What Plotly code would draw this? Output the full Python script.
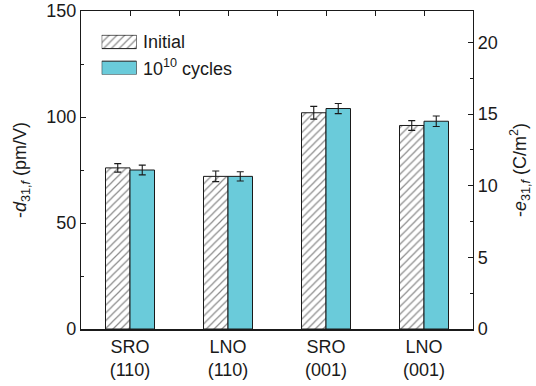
import plotly.graph_objects as go

# Samples (bottom electrode / orientation)
categories = ["SRO<br>(110)", "LNO<br>(110)", "SRO<br>(001)", "LNO<br>(001)"]

# -d31,f in pm/V, before and after 10^10 cycles
d31_initial = [76, 72, 102, 96]
d31_initial_err = [2.0, 2.5, 3.0, 2.3]
d31_cycled = [75, 72, 104, 98]
d31_cycled_err = [2.3, 2.2, 2.4, 2.5]

left_ticks = [0, 50, 100, 150]
right_ticks = [0, 5, 10, 15, 20]

FONT = "Liberation Sans, Arial, sans-serif"
CYAN = "#6ACBDA"
INK = "#1a1a1a"
HATCH = dict(shape="/", fgcolor="#1a1a1a", bgcolor="white", size=5.5, solidity=0.22)

fig = go.Figure()

fig.add_trace(go.Bar(
    x=categories, y=d31_initial, name="Initial",
    marker=dict(color="white", line=dict(color=INK, width=1), pattern=HATCH),
    error_y=dict(type="data", array=d31_initial_err, color=INK,
                 thickness=1.1, width=3.5),
    showlegend=False,
))
fig.add_trace(go.Bar(
    x=categories, y=d31_cycled, name="10^10 cycles",
    marker=dict(color=CYAN, line=dict(color=INK, width=1)),
    error_y=dict(type="data", array=d31_cycled_err, color=INK,
                 thickness=1.1, width=3.5),
    showlegend=False,
))

# Legend keys drawn as small bars on a hidden inset axis
legend_rows = [0.824, 0.168]
fig.add_trace(go.Bar(
    x=[1], y=[legend_rows[0]], orientation="h", width=0.34,
    xaxis="x3", yaxis="y3", showlegend=False, hoverinfo="skip",
    marker=dict(color="white", line=dict(color=INK, width=1), pattern=HATCH),
))
fig.add_trace(go.Bar(
    x=[1], y=[legend_rows[1]], orientation="h", width=0.34,
    xaxis="x3", yaxis="y3", showlegend=False, hoverinfo="skip",
    marker=dict(color=CYAN, line=dict(color=INK, width=1)),
))

# invisible traces to activate the top tick axis and right axis
fig.add_trace(go.Scatter(x=[0], y=[0], xaxis="x2", yaxis="y", mode="markers",
                         marker=dict(opacity=0), showlegend=False, hoverinfo="skip"))
fig.add_trace(go.Scatter(x=categories[:1], y=[0], yaxis="y2", mode="markers",
                         marker=dict(opacity=0), showlegend=False, hoverinfo="skip"))

axis_font = dict(family=FONT, size=18, color=INK)

fig.update_layout(
    width=536, height=386,
    margin=dict(l=81, r=63, t=11, b=57),
    paper_bgcolor="white", plot_bgcolor="white",
    font=dict(family=FONT, size=18, color=INK),
    barmode="group", bargap=0.5, bargroupgap=0,
    xaxis=dict(
        type="category", range=[-0.5, 3.5], automargin=False,
        showline=True, linecolor=INK, linewidth=2,
        ticks="", showgrid=False, zeroline=False,
        tickfont=dict(family=FONT, size=18, color=INK),
        ticklabelstandoff=0,
    ),
    xaxis2=dict(
        overlaying="x", side="top", range=[-0.5, 3.5], anchor="y",
        automargin=False,
        showline=True, linecolor=INK, linewidth=1.2,
        tickvals=[0, 0.5, 1, 1.5, 2, 2.5, 3], ticks="inside", ticklen=5,
        tickwidth=1, tickcolor=INK, showticklabels=False,
        showgrid=False, zeroline=False,
    ),
    yaxis=dict(
        range=[0, 150], tickvals=left_ticks, automargin=False,
        showline=True, linecolor=INK, linewidth=1.2,
        ticks="inside", ticklen=5, tickwidth=1, tickcolor=INK,
        minor=dict(tickvals=[25, 75, 125], ticks="inside", ticklen=3,
                   tickwidth=1, tickcolor=INK),
        showgrid=False, zeroline=False, tickfont=axis_font,
        title=dict(text="-<i>d</i><sub>31,<i>f</i></sub> (pm/V)",
                   font=axis_font, standoff=14),
    ),
    yaxis2=dict(
        overlaying="y", side="right", range=[0, 22.2], tickvals=right_ticks,
        automargin=False,
        showline=True, linecolor=INK, linewidth=1.2,
        ticks="inside", ticklen=5, tickwidth=1, tickcolor=INK,
        minor=dict(tickvals=[2.5, 7.5, 12.5, 17.5], ticks="inside", ticklen=3,
                   tickwidth=1, tickcolor=INK),
        showgrid=False, zeroline=False, tickfont=axis_font,
        title=dict(text="-<i>e</i><sub>31,<i>f</i></sub> (C/m<sup>2</sup>)",
                   font=axis_font, standoff=16),
    ),
    xaxis3=dict(domain=[0.0528, 0.142], range=[0, 1], visible=False,
                fixedrange=True, anchor="y3"),
    yaxis3=dict(domain=[0.800, 0.925], range=[0, 1], visible=False,
                fixedrange=True, anchor="x3"),
)

legend_labels = ["Initial", "10<sup>10</sup> cycles"]
for label, row in zip(legend_labels, legend_rows):
    fig.add_annotation(
        x=1, y=row, xref="x3", yref="y3", text=label, showarrow=False,
        xanchor="left", yanchor="middle", xshift=4,
        font=dict(family=FONT, size=18, color=INK),
    )

fig.write_html("out.html")
